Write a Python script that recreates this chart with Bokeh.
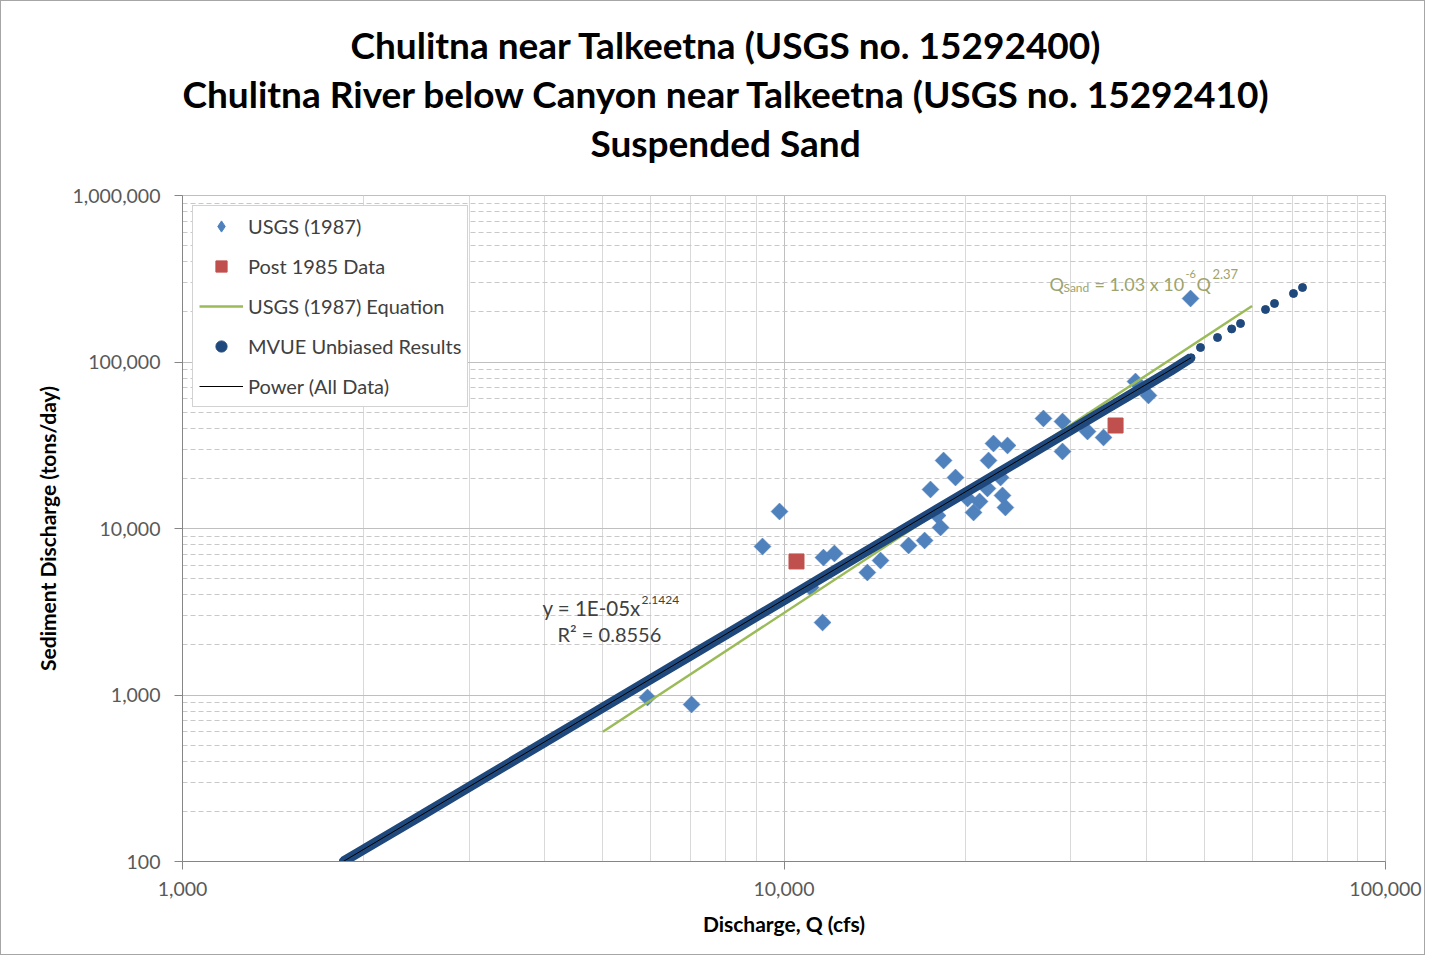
import numpy as np
from bokeh.plotting import figure
from bokeh.models import (FixedTicker, NumeralTickFormatter, Legend, LegendItem,
                          Label, Title)
from bokeh.embed import file_html
from bokeh.resources import INLINE

# ---------------- data ----------------
title_lines = ["Chulitna near Talkeetna (USGS no. 15292400)",
               "Chulitna River below Canyon near Talkeetna (USGS no. 15292410)",
               "Suspended Sand"]
x_label = "Discharge, Q (cfs)"
y_label = "Sediment Discharge (tons/day)"

x_major_ticks = [1000, 10000, 100000]
x_minor_ticks = [2000, 3000, 4000, 5000, 6000, 7000, 8000, 9000,
                 20000, 30000, 40000, 50000, 60000, 70000, 80000, 90000]
y_major_ticks = [100, 1000, 10000, 100000, 1000000]
y_minor_ticks = [200, 300, 400, 500, 600, 700, 800, 900,
                 2000, 3000, 4000, 5000, 6000, 7000, 8000, 9000,
                 20000, 30000, 40000, 50000, 60000, 70000, 80000, 90000,
                 200000, 300000, 400000, 500000, 600000, 700000, 800000, 900000]

# USGS (1987) measurements: discharge (cfs), suspended sand (tons/day)
usgs_q = [5930, 7020, 9210, 9830, 11590, 11070, 11630, 12130, 13760, 14470,
          16110, 17130, 18210, 18000, 17520, 18420, 19280, 20190, 20660, 21140,
          21880, 21790, 22300, 22910, 23080, 23340, 23530, 27000, 29040, 29040,
          31960, 33980, 38400, 40360, 47410]
usgs_qs = [966, 877, 7800, 12650, 2725, 4420, 6690, 7080, 5440, 6420,
           7910, 8470, 10140, 11970, 17150, 25610, 20240, 15140, 12480, 14530,
           25610, 17390, 32400, 20240, 15790, 13370, 31520, 45800, 43920, 29010,
           38240, 35200, 76370, 62930, 240600]

# Post 1985 data
post85_q = [10490, 35580]
post85_qs = [6340, 41550]

# USGS (1987) equation line end points
eq_q = [5000, 60000]
eq_qs = [602, 217000]

# MVUE unbiased results (dense part and sparse high-flow points)
mvue_dense_q = [1850, 2000, 2500, 3000, 4000, 5000, 6000, 7000, 8000, 10000,
                12000, 14000, 16000, 18000, 20000, 23000, 26000, 30000, 35000,
                40000, 44000, 47500]
mvue_dense_qs = [100, 118, 190, 281, 521, 841, 1243, 1730, 2300, 3710,
                 5490, 7630, 10160, 13080, 16390, 22110, 28740, 39070, 54370,
                 72350, 89000, 106000]
mvue_sparse_q = [49250, 52570, 55500, 57410, 63170, 65380, 70310, 72780]
mvue_sparse_qs = [122200, 140300, 158000, 170300, 206700, 224600, 257900, 280200]

# Power trend line (all data)
power_q = [1850, 47500]
power_qs = [100, 106000]

# ---------------- figure ----------------
FONT = "Lato"
p = figure(width=1425, height=955, x_axis_type="log", y_axis_type="log",
           x_range=(1000, 100000), y_range=(100, 1000000),
           output_backend="svg", toolbar_location=None,
           min_border_left=181, min_border_right=41,
           min_border_top=194, min_border_bottom=95)
p.background_fill_color = "white"
p.border_fill_color = "white"
p.outline_line_color = "#BFBFBF"
p.styles = {"border": "1px solid #A6A6A6"}

# titles: p.title is outermost, the first added title sits closest to the plot
title_offsets = [168, 0, 408]
def style_title(t, off, standoff, size="37px"):
    t.align = "left"
    t.offset = off
    t.text_font = "Lato"
    t.text_font_size = size
    t.text_font_style = "bold"
    t.text_color = "black"
    t.standoff = standoff

p.title.text = title_lines[0]
style_title(p.title, title_offsets[0], 2)
spacer = Title(text=" ")
style_title(spacer, 0, 26, size="2px")
p.add_layout(spacer, "above")
t3 = Title(text=title_lines[2])
style_title(t3, title_offsets[2], 2)
p.add_layout(t3, "above")
t2 = Title(text=title_lines[1])
style_title(t2, title_offsets[1], 2)
p.add_layout(t2, "above")

# axes
for ax, major, minor in [(p.xaxis[0], x_major_ticks, x_minor_ticks),
                         (p.yaxis[0], y_major_ticks, y_minor_ticks)]:
    ax.ticker = FixedTicker(ticks=major, minor_ticks=minor)
    ax.formatter = NumeralTickFormatter(format="0,0")
    ax.axis_line_color = "#868686"
    ax.major_tick_line_color = "#868686"
    ax.major_tick_out = 8
    ax.major_tick_in = 0
    ax.minor_tick_out = 0
    ax.minor_tick_in = 0
    ax.major_label_text_font = FONT
    ax.major_label_text_font_size = "19.5px"
    ax.major_label_text_color = "#595959"
    ax.axis_label_text_font = FONT
    ax.axis_label_text_font_size = "21px"
    ax.axis_label_text_font_style = "bold"
    ax.axis_label_text_color = "black"

p.xaxis.axis_label = x_label
p.yaxis.axis_label = y_label
p.xaxis.major_label_standoff = 12
p.xaxis.axis_label_standoff = 12
p.yaxis.major_label_standoff = 14
p.yaxis.axis_label_standoff = 9

# grids
p.xgrid.grid_line_color = "#BFBFBF"
p.ygrid.grid_line_color = "#BFBFBF"
p.xgrid.minor_grid_line_color = "#D9D9D9"
p.ygrid.minor_grid_line_color = "#C8C8C8"
p.ygrid.minor_grid_line_dash = "5 3"

# ---------------- glyphs ----------------
r_usgs = p.scatter(usgs_q, usgs_qs, marker="square", angle=np.pi / 4, size=12,
                   fill_color="#4F81BD", line_color="#4F81BD", line_width=0.5)
# legend-only marker (zero size on the plot)
r_usgs_leg = p.scatter(usgs_q[:1], usgs_qs[:1], marker="diamond", size=0,
                       fill_color="#4F81BD", line_color="#4F81BD")
r_post = p.scatter(post85_q, post85_qs, marker="square", size=15,
                   fill_color="#C0504D", line_color="#C0504D")
r_eq = p.line(eq_q, eq_qs, line_color="#9BBB59", line_width=2.5)
p.line(mvue_dense_q, mvue_dense_qs, line_color="#1F497D", line_width=10)
r_mvue = p.scatter(mvue_dense_q + mvue_sparse_q, mvue_dense_qs + mvue_sparse_qs,
                   marker="circle", size=8, fill_color="#1F497D",
                   line_color="#1F497D")
r_pow = p.line(power_q, power_qs, line_color="black", line_width=1)

legend = Legend(items=[
    LegendItem(label="USGS (1987)", renderers=[r_usgs_leg]),
    LegendItem(label="Post 1985 Data", renderers=[r_post]),
    LegendItem(label="USGS (1987) Equation", renderers=[r_eq]),
    LegendItem(label="MVUE Unbiased Results", renderers=[r_mvue]),
    LegendItem(label="Power (All Data)", renderers=[r_pow]),
], location="top_left")
legend.margin = 10
legend.padding = 6
legend.spacing = 12
legend.glyph_width = 44
legend.glyph_height = 28
legend.label_height = 28
legend.label_standoff = 5
legend.border_line_color = "#A6A6A6"
legend.border_line_width = 1
legend.background_fill_color = "white"
legend.background_fill_alpha = 1
legend.label_text_font = FONT
legend.label_text_font_size = "20px"
legend.label_text_color = "#404040"
p.add_layout(legend)

# regression annotation
common = dict(x_units="data", y_units="data", text_font=FONT,
              text_baseline="middle", text_align="left")
p.add_layout(Label(x=3967, y=3308, text="y = 1E-05x", text_font_size="20.5px",
                   text_color="#404040", **common))
p.add_layout(Label(x=5797, y=3700, text="2.1424", text_font_size="12px",
                   text_color="#404040", **common))
p.add_layout(Label(x=4202, y=2309, text="R\u00b2 = 0.8556", text_font_size="20px",
                   text_color="#404040", **common))

# USGS equation annotation
eqc = "#9DA36B"
p.add_layout(Label(x=27630, y=296100, text="Q", text_font_size="18px",
                   text_color=eqc, **common))
p.add_layout(Label(x=29150, y=280200, text="Sand", text_font_size="12px",
                   text_color=eqc, **common))
p.add_layout(Label(x=32830, y=296100, text="= 1.03 x 10", text_font_size="18px",
                   text_color=eqc, **common))
p.add_layout(Label(x=46500, y=335400, text="-6", text_font_size="11px",
                   text_color=eqc, **common))
p.add_layout(Label(x=48500, y=296100, text="Q", text_font_size="18px",
                   text_color=eqc, **common))
p.add_layout(Label(x=51560, y=335400, text="2.37", text_font_size="13px",
                   text_color=eqc, **common))

open("out.html", "w").write(file_html(p, INLINE))
